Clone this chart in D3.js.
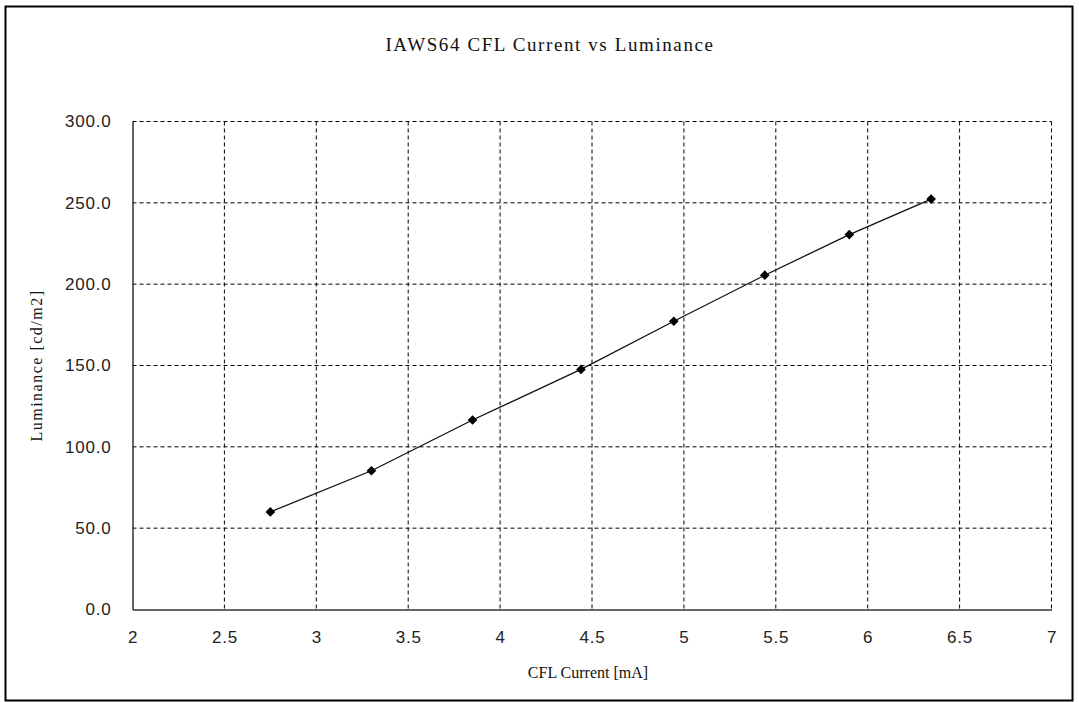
<!DOCTYPE html>
<html lang="en">
<head>
<meta charset="UTF-8">
<title>IAWS64 CFL Current vs Luminance</title>
<script src="https://cdn.jsdelivr.net/npm/d3@7"></script>
<style>
    body { margin: 0; background: #fff; }
    .tick text { font-family: "Liberation Sans", Arial, sans-serif; font-size: 17px; fill: #222; letter-spacing: 0.8px; }
    .lbl { font-family: "Liberation Serif", "Times New Roman", serif; font-size: 16px; fill: #111; }
</style>
</head>
<body>
<svg width="1079" height="702"></svg>
<script>
    // data
    const current = [2.75, 3.30, 3.85, 4.44, 4.945, 5.44, 5.90, 6.345];
    const luminance = [60.0, 85.3, 116.5, 147.6, 177.2, 205.5, 230.5, 252.3];
    const xTicks = [2, 2.5, 3, 3.5, 4, 4.5, 5, 5.5, 6, 6.5, 7];
    const yTicks = [0, 50, 100, 150, 200, 250, 300];

    const width = 1079, height = 702;
    const margin = {left: 132.5, right: 27.5, top: 121.5, bottom: 92.5};
    const svg = d3.select('svg');

    svg.append('rect')
        .attr('x', 5.5).attr('y', 6.5)
        .attr('width', 1067).attr('height', 694)
        .attr('fill', 'none').attr('stroke', '#000').attr('stroke-width', 2);

    const x = d3.scaleLinear().domain([2, 7]).range([margin.left, width - margin.right]);
    const y = d3.scaleLinear().domain([0, 300]).range([height - margin.bottom, margin.top]);

    // grid
    const grid = svg.append('g').attr('stroke', '#000').attr('stroke-dasharray', '4,3').attr('stroke-width', 1);
    grid.selectAll('line.gx').data(xTicks.slice(1)).join('line').attr('class', 'gx')
        .attr('x1', d => x(d)).attr('x2', d => x(d))
        .attr('y1', y(300)).attr('y2', y(0));
    grid.selectAll('line.gy').data(yTicks.slice(1)).join('line').attr('class', 'gy')
        .attr('x1', x(2)).attr('x2', x(7))
        .attr('y1', d => y(d)).attr('y2', d => y(d));

    // axes
    svg.append('g').attr('transform', `translate(0,${y(0)})`)
        .call(d3.axisBottom(x).tickValues(xTicks).tickFormat(d3.format('')).tickSize(0).tickPadding(21))
        .call(g => g.select('.domain').attr('stroke', '#333').attr('stroke-width', 1.5));
    svg.append('g').attr('transform', `translate(${x(2)},0)`)
        .call(d3.axisLeft(y).tickValues(yTicks).tickFormat(d3.format('.1f')).tickSize(0).tickPadding(21))
        .call(g => g.select('.domain').attr('stroke', '#333').attr('stroke-width', 1.5));

    // series
    const pts = current.map((c, i) => ({c, l: luminance[i]}));
    svg.append('path').datum(pts)
        .attr('d', d3.line().x(d => x(d.c)).y(d => y(d.l)))
        .attr('fill', 'none').attr('stroke', '#111').attr('stroke-width', 1.3);
    svg.selectAll('path.pt').data(pts).join('path').attr('class', 'pt')
        .attr('d', d3.symbol(d3.symbolDiamond2, 60))
        .attr('transform', d => `translate(${x(d.c)},${y(d.l)})`)
        .attr('fill', '#000');

    // labels
    svg.append('text').attr('class', 'lbl').attr('x', 550).attr('y', 51)
        .attr('text-anchor', 'middle').style('font-size', '19px').attr('letter-spacing', 1.6)
        .text('IAWS64 CFL Current vs Luminance');
    svg.append('text').attr('class', 'lbl').attr('x', 588).attr('y', 678)
        .attr('text-anchor', 'middle').text('CFL Current [mA]');
    svg.append('text').attr('class', 'lbl')
        .attr('transform', `translate(42,${(y(0) + y(300)) / 2}) rotate(-90)`)
        .attr('text-anchor', 'middle').attr('letter-spacing', 1.5).text('Luminance [cd/m2]');
</script>
</body>
</html>
